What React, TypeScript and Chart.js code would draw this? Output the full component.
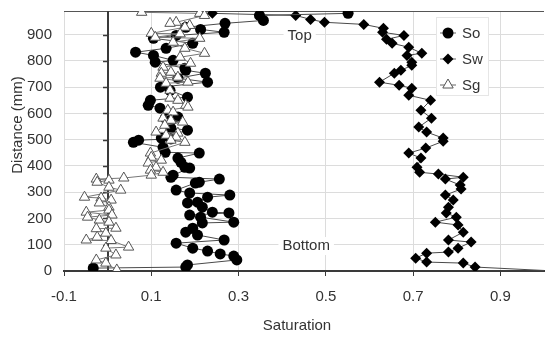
import React, { useEffect, useRef } from "react";
import { Chart, registerables } from "chart.js";

Chart.register(...registerables);

// ---- Data ----
const soDistance = [981, 973, 954, 943, 928, 920, 909, 897, 886, 867, 848, 833, 821, 802, 795, 772, 764, 753, 734, 719, 700, 688, 662, 650, 631, 620, 586, 582, 544, 536, 506, 503, 498, 490, 471, 452, 449, 430, 414, 395, 392, 365, 357, 350, 338, 335, 308, 297, 289, 281, 262, 259, 243, 224, 221, 213, 205, 186, 183, 163, 148, 137, 118, 106, 87, 76, 65, 57, 42, 23, 15, 11];
const soSaturation = [0.551, 0.348, 0.357, 0.269, 0.179, 0.213, 0.267, 0.157, 0.105, 0.195, 0.134, 0.064, 0.105, 0.150, 0.109, 0.177, 0.179, 0.224, 0.161, 0.229, 0.121, 0.143, 0.183, 0.098, 0.093, 0.120, 0.161, 0.132, 0.145, 0.183, 0.123, 0.145, 0.071, 0.059, 0.127, 0.132, 0.210, 0.161, 0.168, 0.177, 0.188, 0.150, 0.145, 0.256, 0.210, 0.201, 0.157, 0.188, 0.280, 0.229, 0.206, 0.183, 0.217, 0.240, 0.278, 0.188, 0.213, 0.289, 0.217, 0.195, 0.179, 0.206, 0.267, 0.157, 0.195, 0.229, 0.258, 0.289, 0.296, 0.183, 0.179, -0.033];

const swDistance = [981, 973, 958, 947, 939, 924, 909, 897, 882, 867, 852, 829, 821, 795, 783, 764, 753, 719, 707, 696, 669, 650, 612, 582, 548, 529, 506, 494, 468, 449, 430, 395, 376, 369, 357, 350, 327, 312, 289, 270, 243, 221, 205, 186, 175, 148, 118, 110, 87, 72, 68, 49, 34, 30, 15, 2];
const swSaturation = [0.240, 0.431, 0.465, 0.497, 0.587, 0.632, 0.630, 0.679, 0.639, 0.652, 0.690, 0.720, 0.686, 0.697, 0.697, 0.672, 0.657, 0.623, 0.668, 0.697, 0.690, 0.740, 0.718, 0.742, 0.713, 0.731, 0.769, 0.769, 0.729, 0.690, 0.718, 0.709, 0.715, 0.758, 0.815, 0.774, 0.808, 0.810, 0.774, 0.792, 0.781, 0.776, 0.799, 0.751, 0.803, 0.815, 0.781, 0.833, 0.803, 0.781, 0.731, 0.706, 0.731, 0.815, 0.842, 1.0];

const sgDistance = [985, 981, 973, 947, 943, 935, 928, 905, 903, 890, 886, 871, 848, 829, 814, 791, 776, 757, 753, 738, 734, 719, 715, 688, 658, 650, 631, 624, 612, 605, 582, 574, 567, 555, 529, 525, 517, 510, 498, 490, 449, 433, 422, 411, 395, 384, 376, 365, 354, 350, 346, 338, 319, 308, 281, 278, 270, 259, 243, 232, 224, 213, 205, 194, 186, 163, 161, 144, 129, 118, 116, 91, 87, 61, 42, 30, 4];
const sgSaturation = [0.078, 0.211, 0.222, 0.157, 0.143, 0.188, 0.177, 0.100, 0.166, 0.109, 0.211, 0.150, 0.177, 0.222, 0.166, 0.190, 0.127, 0.145, 0.123, 0.161, 0.120, 0.184, 0.134, 0.143, 0.143, 0.161, 0.179, 0.184, 0.138, 0.150, 0.127, 0.145, 0.172, 0.131, 0.111, 0.161, 0.134, 0.157, 0.145, 0.177, 0.098, 0.100, 0.123, 0.093, 0.111, 0.098, 0.127, 0.100, 0.037, -0.026, 0.003, -0.024, 0.003, 0.030, -0.053, -0.015, 0.008, -0.019, 0.003, 0.003, -0.049, 0.010, -0.046, -0.019, 0.003, 0.019, -0.026, -0.004, -0.024, -0.049, 0.008, 0.048, -0.004, 0.019, -0.026, -0.004, 0.021];

const seriesNames = ["So", "Sw", "Sg"];
const xTickValues = [-0.1, 0.1, 0.3, 0.5, 0.7, 0.9];
const xTickLabels = ["-0.1", "0.1", "0.3", "0.5", "0.7", "0.9"];
const yTickValues = [0, 100, 200, 300, 400, 500, 600, 700, 800, 900];
const annotationTexts = ["Top", "Bottom"];
const annotationX = [0.44, 0.455];
const annotationY = [897, 95];
const xTitle = "Saturation";
const yTitle = "Distance (mm)";

const FONT = '"Liberation Sans", Arial, sans-serif';
const TEXT = "#333333";
const GRID = "#dcdcdc";
const AXIS = "#3a3a3a";

function pairs(xs: number[], ys: number[]) {
  return xs.map((x, i) => ({ x, y: ys[i] }));
}

function drawMarker(ctx: CanvasRenderingContext2D, kind: string, x: number, y: number) {
  ctx.save();
  ctx.beginPath();
  if (kind === "circle") {
    ctx.arc(x, y, 5.5, 0, Math.PI * 2);
    ctx.fillStyle = "#000";
    ctx.fill();
  } else if (kind === "diamond") {
    const r = 5.5;
    ctx.moveTo(x, y - r);
    ctx.lineTo(x + r, y);
    ctx.lineTo(x, y + r);
    ctx.lineTo(x - r, y);
    ctx.closePath();
    ctx.fillStyle = "#000";
    ctx.fill();
  } else {
    const r = 6;
    ctx.moveTo(x, y - r);
    ctx.lineTo(x + r * 0.866, y + r * 0.5);
    ctx.lineTo(x - r * 0.866, y + r * 0.5);
    ctx.closePath();
    ctx.fillStyle = "#fff";
    ctx.fill();
    ctx.strokeStyle = "#555";
    ctx.lineWidth = 1;
    ctx.stroke();
  }
  ctx.restore();
}

const decorPlugin = {
  id: "decor",
  beforeDatasetsDraw(chart: any) {
    const { ctx, chartArea, scales } = chart;
    const xs = scales.x;
    const ys = scales.y;
    ctx.save();
    // top border
    ctx.strokeStyle = "#555";
    ctx.lineWidth = 1.2;
    ctx.beginPath();
    ctx.moveTo(chartArea.left, chartArea.top + 0.5);
    ctx.lineTo(chartArea.right, chartArea.top + 0.5);
    ctx.stroke();
    // vertical axis line at x = 0 with tick marks
    const x0 = Math.round(xs.getPixelForValue(0));
    ctx.strokeStyle = AXIS;
    ctx.lineWidth = 2;
    ctx.beginPath();
    ctx.moveTo(x0, chartArea.top);
    ctx.lineTo(x0, chartArea.bottom);
    ctx.stroke();
    ctx.lineWidth = 1.5;
    yTickValues.forEach((v) => {
      if (v === 0) return;
      const py = Math.round(ys.getPixelForValue(v)) + 0.5;
      ctx.beginPath();
      ctx.moveTo(x0 - 5, py);
      ctx.lineTo(x0, py);
      ctx.stroke();
    });
    ctx.restore();
  },
  afterDatasetsDraw(chart: any) {
    const { ctx, chartArea, scales } = chart;
    ctx.save();
    ctx.font = `15px ${FONT}`;
    ctx.textAlign = "center";
    ctx.textBaseline = "middle";
    annotationTexts.forEach((t, i) => {
      const px = scales.x.getPixelForValue(annotationX[i]);
      const py = scales.y.getPixelForValue(annotationY[i]);
      const w = ctx.measureText(t).width;
      ctx.fillStyle = "#fff";
      ctx.fillRect(px - w / 2 - 4, py - 9, w + 8, 18);
      ctx.fillStyle = TEXT;
      ctx.fillText(t, px, py);
    });

    // legend
    const lx = chartArea.right - 108;
    const ly = chartArea.top + 6;
    ctx.fillStyle = "#fff";
    ctx.fillRect(lx, ly, 52, 78);
    ctx.strokeStyle = "#e6e6e6";
    ctx.lineWidth = 1;
    ctx.strokeRect(lx + 0.5, ly + 0.5, 52, 78);
    const kinds = ["circle", "diamond", "triangle"];
    seriesNames.forEach((name, i) => {
      const cy = ly + 16 + i * 26;
      ctx.strokeStyle = "#666";
      ctx.lineWidth = 1;
      ctx.beginPath();
      ctx.moveTo(lx + 4, cy);
      ctx.lineTo(lx + 20, cy);
      ctx.stroke();
      drawMarker(ctx, kinds[i], lx + 12, cy);
      ctx.fillStyle = TEXT;
      ctx.font = `15px ${FONT}`;
      ctx.textAlign = "left";
      ctx.textBaseline = "middle";
      ctx.fillText(name, lx + 26, cy + 1);
    });
    ctx.restore();
  },
  afterDraw(chart: any) {
    const { ctx, chartArea } = chart;
    ctx.save();
    ctx.fillStyle = TEXT;
    ctx.font = `15px ${FONT}`;
    ctx.textAlign = "center";
    ctx.textBaseline = "middle";
    ctx.fillText(xTitle, chartArea.left + 233, chartArea.bottom + 55);
    ctx.translate(18, chartArea.top + 114);
    ctx.rotate(-Math.PI / 2);
    ctx.fillText(yTitle, 0, 0);
    ctx.restore();
  },
};

export default function App() {
  const canvasRef = useRef<HTMLCanvasElement | null>(null);

  useEffect(() => {
    document.body.style.margin = "0";
    const canvas = canvasRef.current;
    if (!canvas) return;
    const lineColor = "#4a4a4a";
    const chart = new Chart(canvas, {
      type: "scatter",
      data: {
        datasets: [
          {
            label: seriesNames[0],
            data: pairs(soSaturation, soDistance),
            showLine: true,
            borderColor: lineColor,
            borderWidth: 1,
            pointStyle: "circle",
            pointRadius: 5.5,
            pointBackgroundColor: "#000",
            pointBorderColor: "#000",
            pointBorderWidth: 0,
            order: 1,
          },
          {
            label: seriesNames[1],
            data: pairs(swSaturation, swDistance),
            showLine: true,
            borderColor: lineColor,
            borderWidth: 1,
            pointStyle: "rectRot",
            pointRadius: (c: any) => (c.raw && c.raw.x >= 1 ? 0 : 5.5),
            pointBackgroundColor: "#000",
            pointBorderColor: "#000",
            pointBorderWidth: 0,
            order: 2,
          },
          {
            label: seriesNames[2],
            data: pairs(sgSaturation, sgDistance),
            showLine: true,
            borderColor: "#777",
            borderWidth: 1,
            pointStyle: "triangle",
            pointRadius: 6,
            pointBackgroundColor: "#fff",
            pointBorderColor: "#555",
            pointBorderWidth: 1,
            order: 0,
          },
        ],
      } as any,
      options: {
        animation: false,
        responsive: false,
        maintainAspectRatio: false,
        layout: { padding: { top: 11, right: 0, left: 0, bottom: 0 } },
        plugins: {
          legend: { display: false },
          tooltip: { enabled: false },
        },
        scales: {
          x: {
            type: "linear",
            min: -0.1,
            max: 1.0,
            afterBuildTicks: (scale: any) => {
              scale.ticks = xTickValues.map((v) => ({ value: v }));
            },
            afterFit: (scale: any) => {
              scale.height = 72;
              scale.paddingLeft = 0;
              scale.paddingRight = 0;
            },
            ticks: {
              color: TEXT,
              font: { family: FONT, size: 15 },
              padding: 12,
              maxRotation: 0,
              autoSkip: false,
              callback: (v: any) => {
                const i = xTickValues.findIndex((t) => Math.abs(t - Number(v)) < 1e-9);
                return i >= 0 ? xTickLabels[i] : "";
              },
            },
            grid: {
              color: GRID,
              lineWidth: 1,
              tickColor: AXIS,
              tickLength: 5,
              drawTicks: true,
            },
            border: { display: true, color: AXIS, width: 2 },
          },
          y: {
            type: "linear",
            min: 0,
            max: 990,
            afterBuildTicks: (scale: any) => {
              scale.ticks = yTickValues.map((v) => ({ value: v }));
            },
            afterFit: (scale: any) => {
              scale.width = 64;
              scale.paddingTop = 0;
              scale.paddingBottom = 0;
            },
            ticks: {
              color: TEXT,
              font: { family: FONT, size: 15 },
              padding: 12,
              autoSkip: false,
            },
            grid: {
              color: GRID,
              lineWidth: 1,
              drawTicks: false,
            },
            border: { display: false },
          },
        },
      } as any,
      plugins: [decorPlugin],
    });
    return () => chart.destroy();
  }, []);

  return (
    <div style={{ width: 551, height: 343 }}>
      <canvas ref={canvasRef} width={551} height={343} style={{ display: "block" }} />
    </div>
  );
}
